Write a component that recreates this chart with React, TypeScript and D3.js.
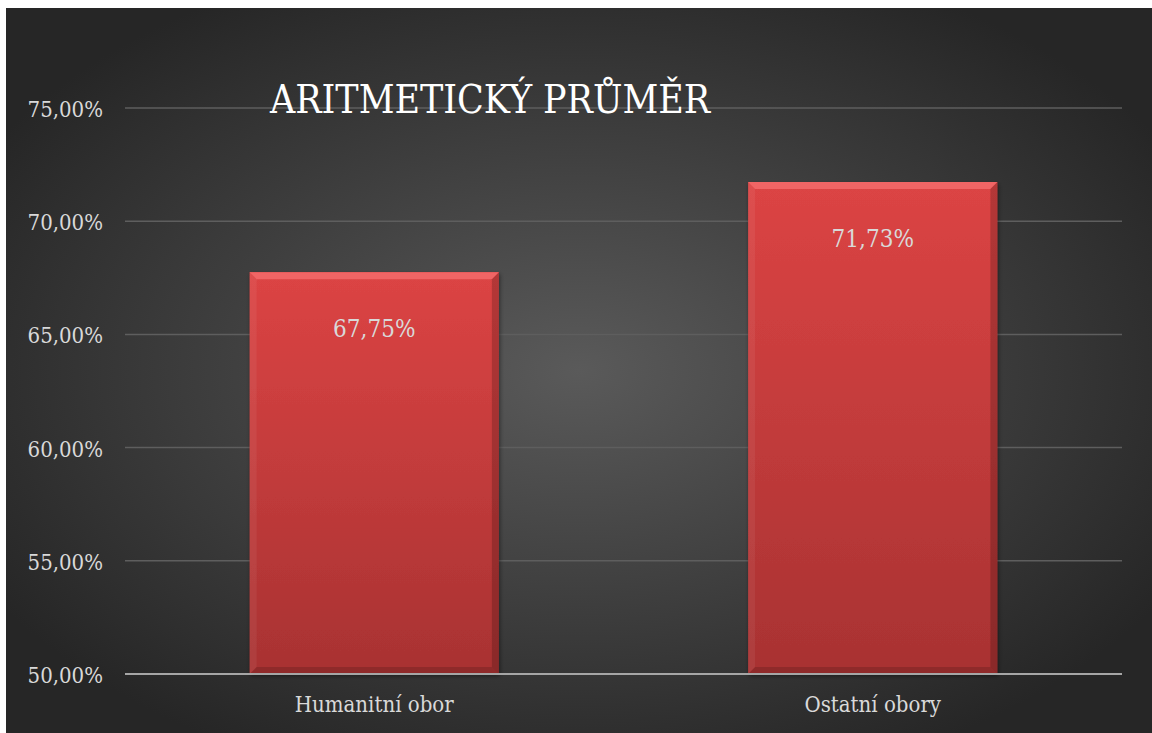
import React from "react";
import * as d3 from "d3";

const categories = ["Humanitní obor", "Ostatní obory"];
const values = [67.75, 71.73];
const valueLabels = ["67,75%", "71,73%"];
const yTicks = [50, 55, 60, 65, 70, 75];
const yTickLabels = ["50,00%", "55,00%", "60,00%", "65,00%", "70,00%", "75,00%"];
const title = "ARITMETICKÝ PRŮMĚR";

const W = 1152;
const H = 733;
const FONT = "'DejaVu Serif Condensed', 'DejaVu Serif', serif";

export default function App() {
  const x = d3.scaleBand<string>().domain(categories).range([125, 1122]).paddingInner(0.5).paddingOuter(0.25);
  const y = d3.scaleLinear().domain([50, 75]).range([674, 108]);
  const bev = 7;
  const txt = { fontFamily: FONT, fontStretch: "condensed" } as React.CSSProperties;
  return (
    <svg width={W} height={H} style={{ position: "absolute", left: 0, top: 0 }}>
      <defs>
        <radialGradient id="bg" cx="0.5" cy="0.5" r="0.6">
          <stop offset="0" stopColor="#5a5a5a" />
          <stop offset="1" stopColor="#262626" />
        </radialGradient>
        <linearGradient id="barFill" x1="0" y1="0" x2="0" y2="1">
          <stop offset="0" stopColor="#dc4444" />
          <stop offset="1" stopColor="#a83232" />
        </linearGradient>
        <filter id="shadow" x="-10%" y="-10%" width="120%" height="120%">
          <feDropShadow dx="1" dy="2" stdDeviation="2" floodColor="#000" floodOpacity="0.45" />
        </filter>
      </defs>
      <rect x={0} y={0} width={W} height={H} fill="#ffffff" />
      <rect x={6} y={8} width={W - 6} height={H - 8} fill="url(#bg)" />
      {yTicks.map((t, i) => (
        <g key={t}>
          {t !== 50 && (
            <line x1={125} x2={1122} y1={y(t)} y2={y(t)} stroke="#5e5e5e" strokeWidth={1.5} />
          )}
          <text x={103} y={y(t) + 9} textAnchor="end" fill="#d9d9d9" fontSize={22} style={txt}>
            {yTickLabels[i]}
          </text>
        </g>
      ))}
      <text x={270} y={113} fill="#ffffff" fontSize={40} style={txt} textLength={440} lengthAdjust="spacingAndGlyphs">
        {title}
      </text>
      {categories.map((c, i) => {
        const x0 = x(c)!;
        const w = x.bandwidth();
        const y0 = y(values[i]);
        const y1 = y(50);
        return (
          <g key={c}>
            <rect x={x0} y={y0} width={w} height={y1 - y0} fill="url(#barFill)" filter="url(#shadow)" />
            <polygon
              points={`${x0},${y0} ${x0 + w},${y0} ${x0 + w - bev},${y0 + bev} ${x0 + bev},${y0 + bev}`}
              fill="#f06565"
            />
            <polygon
              points={`${x0 + w},${y0} ${x0 + w},${y1} ${x0 + w - bev},${y1 - bev} ${x0 + w - bev},${y0 + bev}`}
              fill="#000"
              opacity={0.18}
            />
            <polygon
              points={`${x0},${y0} ${x0},${y1} ${x0 + bev},${y1 - bev} ${x0 + bev},${y0 + bev}`}
              fill="#fff"
              opacity={0.06}
            />
            <polygon
              points={`${x0},${y1} ${x0 + w},${y1} ${x0 + w - bev},${y1 - bev} ${x0 + bev},${y1 - bev}`}
              fill="#000"
              opacity={0.15}
            />
            <text x={x0 + w / 2} y={y0 + 65} textAnchor="middle" fill="#d9d9d9" fontSize={24} style={txt}>
              {valueLabels[i]}
            </text>
            <text x={x0 + w / 2} y={712} textAnchor="middle" fill="#d9d9d9" fontSize={22} style={txt}>
              {c}
            </text>
          </g>
        );
      })}
      <line x1={125} x2={1122} y1={y(50)} y2={y(50)} stroke="#a6a6a6" strokeWidth={2} />
    </svg>
  );
}
